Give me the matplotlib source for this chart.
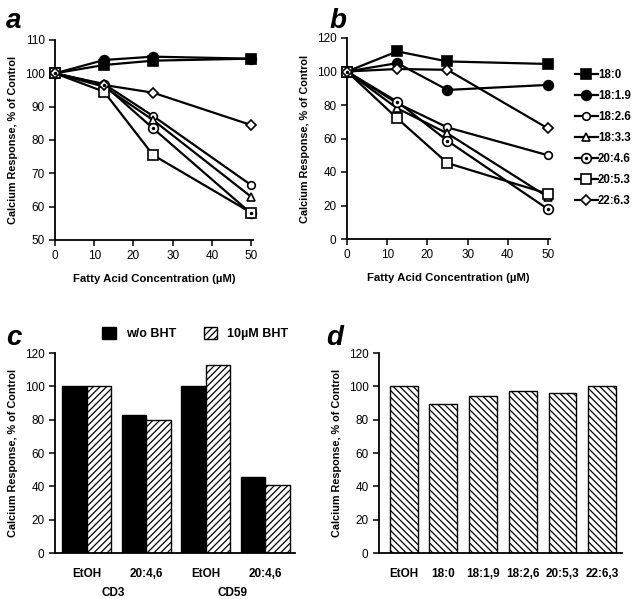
import numpy as np
import matplotlib.pyplot as plt
from matplotlib.patches import Patch

plt.rcParams['font.family'] = ['Liberation Sans', 'DejaVu Sans']
plt.rcParams['hatch.linewidth'] = 0.9

# ---- data ----
conc = [0, 12.5, 25, 50]
series_names = ["18:0", "18:1.9", "18:2.6", "18:3.3", "20:4.6", "20:5.3", "22:6.3"]

# panel a
a_vals = {
    "18:0":   [100, 102.5, 103.8, 104.4],
    "18:1.9": [100, 104.0, 105.0, 104.4],
    "18:2.6": [100, 96.8, 87.2, 66.5],
    "18:3.3": [100, 96.0, 86.0, 63.0],
    "20:4.6": [100, 96.5, 83.5, 58.0],
    "20:5.3": [100, 94.5, 75.5, 58.2],
    "22:6.3": [100, 96.5, 94.2, 84.5],
}

# panel b
b_vals = {
    "18:0":   [100, 112.0, 106.0, 104.5],
    "18:1.9": [100, 105.0, 89.0, 92.0],
    "18:2.6": [100, 81.0, 66.6, 50.0],
    "18:3.3": [100, 78.0, 63.0, 25.0],
    "20:4.6": [100, 82.0, 58.6, 17.8],
    "20:5.3": [100, 72.0, 45.3, 27.0],
    "22:6.3": [100, 101.5, 101.0, 66.0],
}

# panel c
c_labels = ["EtOH", "20:4,6", "EtOH", "20:4,6"]
c_groups = ["CD3", "CD59"]
c_no_bht = [100, 83, 100, 45.5]
c_bht = [100, 80, 113, 41]

# panel d
d_labels = ["EtOH", "18:0", "18:1,9", "18:2,6", "20:5,3", "22:6,3"]
d_vals = [100, 89.5, 94.5, 97.5, 96, 100]

styles = {
    "18:0":   dict(marker='s', mfc='black', ms=7),
    "18:1.9": dict(marker='o', mfc='black', ms=7),
    "18:2.6": dict(marker='o', mfc='white', ms=5.5),
    "18:3.3": dict(marker='^', mfc='white', ms=5.5),
    "20:4.6": dict(marker='o', mfc='white', ms=7),
    "20:5.3": dict(marker='s', mfc='white', ms=7.5),
    "22:6.3": dict(marker='D', mfc='white', ms=5),
}

W, H = 638, 599
fig = plt.figure(figsize=(W / 100, H / 100), dpi=100)


def box(l, r, t, b):
    return [l / W, 1 - b / H, (r - l) / W, (b - t) / H]


ylab = "Calcium Response, % of Control"
xlab = "Fatty Acid Concentration (\u00b5M)"


def style_axes(ax):
    for s in ['top', 'right']:
        ax.spines[s].set_visible(False)
    for s in ['left', 'bottom']:
        ax.spines[s].set_linewidth(1.3)
    ax.tick_params(direction='out', length=4, width=1.1, labelsize=8.5)
    ax.set_ylabel(ylab, fontsize=7.8, fontweight='bold', labelpad=5)


def line_panel(ax, vals, ylim, yticks):
    handles = []
    for name in series_names:
        st = styles[name]
        ln, = ax.plot(conc, vals[name], color='black', lw=1.6, marker=st['marker'],
                      mfc=st['mfc'], mec='black', mew=1.2, ms=st['ms'],
                      clip_on=False, zorder=3)
        h = ln
        if name == "20:4.6":
            dot, = ax.plot(conc, vals[name], ls='none', marker='o', ms=1.5,
                           color='black', clip_on=False, zorder=4)
            h = (ln, dot)
        handles.append(h)
    ax.set_xlim(0, 50.5)
    ax.set_ylim(*ylim)
    ax.set_xticks([0, 10, 20, 30, 40, 50])
    ax.set_yticks(yticks)
    ax.set_xlabel(xlab, fontsize=8.2, fontweight='bold', labelpad=8)
    style_axes(ax)
    return handles


# panel a
ax_a = fig.add_axes(box(55, 253, 40, 240))
line_panel(ax_a, a_vals, (50, 110), np.arange(50, 111, 10))

# panel b
ax_b = fig.add_axes(box(347, 550, 38, 239))
hb = line_panel(ax_b, b_vals, (0, 120), np.arange(0, 121, 20))
ax_b.legend(hb, series_names, loc='upper left', bbox_to_anchor=(1.1, 0.87),
            frameon=False, handlelength=2.0, handletextpad=0.0, labelspacing=0.78,
            prop={'weight': 'bold', 'size': 8.3}, borderaxespad=0)

# panel c
ax_c = fig.add_axes(box(55, 295, 353, 553))
xc = np.arange(len(c_labels))
bw = 0.41
ax_c.bar(xc - bw / 2, c_no_bht, bw, color='black', edgecolor='black', lw=1, label='w/o BHT')
ax_c.bar(xc + bw / 2, c_bht, bw, color='white', edgecolor='black', lw=1,
         hatch='/////', label='10\u00b5M BHT')
ax_c.set_xlim(-0.53, 3.5)
ax_c.set_ylim(0, 120)
ax_c.set_yticks(np.arange(0, 121, 20))
ax_c.set_xticks(xc)
ax_c.set_xticklabels(c_labels, fontweight='bold', fontsize=8.5)
style_axes(ax_c)
ax_c.tick_params(axis='x', length=0, pad=11)
for i, g in enumerate(c_groups):
    ax_c.text(0.5 + 2 * i - 0.05, -0.2, g, transform=ax_c.get_xaxis_transform(),
              ha='center', va='center', fontweight='bold', fontsize=8.5)
leg_handles = [Patch(facecolor='black', edgecolor='black'),
               Patch(facecolor='white', edgecolor='black', hatch='/////')]
ax_c.legend(leg_handles, ['w/o BHT', '10\u00b5M BHT'], loc='lower left',
            bbox_to_anchor=(0.175, 1.04), ncol=2, frameon=False, handlelength=1.1,
            handleheight=1.1, columnspacing=2.2, handletextpad=0.8,
            prop={'weight': 'bold', 'size': 9}, borderaxespad=0)

# panel d
ax_d = fig.add_axes(box(379, 622, 353, 553))
xd = np.arange(len(d_labels))
ax_d.bar(xd, d_vals, 0.7, color='white', edgecolor='black', lw=1, hatch='\\\\\\\\\\')
ax_d.set_xlim(-0.62, 5.5)
ax_d.set_ylim(0, 120)
ax_d.set_yticks(np.arange(0, 121, 20))
ax_d.set_xticks(xd)
ax_d.set_xticklabels(d_labels, fontweight='bold', fontsize=8.5)
style_axes(ax_d)
ax_d.tick_params(axis='x', length=0, pad=11)

# panel letters
for letter, (px, py) in zip("abcd", [(6, 28), (330, 28), (6, 345), (326, 345)]):
    fig.text(px / W, 1 - py / H, letter, fontsize=20, fontweight='bold',
             fontstyle='italic', ha='left', va='baseline')

fig.savefig("out.png", dpi=100)
